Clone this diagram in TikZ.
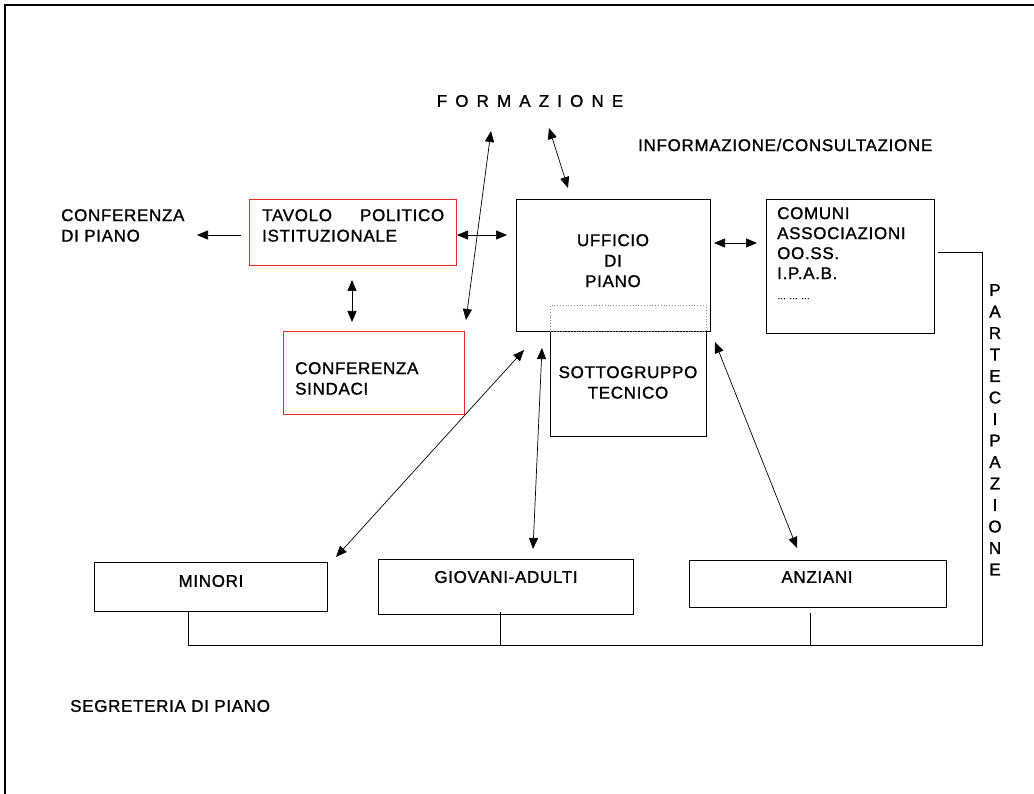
\documentclass[tikz,border=0pt]{standalone}
\usepackage{fontspec}
\setmainfont{Liberation Sans}[LetterSpace=4,FakeBold=1.2]
\usetikzlibrary{arrows.meta,calc}
\definecolor{boxred}{RGB}{235,40,40}
\begin{document}
\begin{tikzpicture}[x=1pt,y=-1pt,
  box/.style={draw,line width=0.8pt,anchor=north west,inner sep=0pt},
  redbox/.style={box,draw=boxred},
  lbl/.style={inner sep=0pt,font=\fontsize{17}{20.5}\selectfont},
  tipx/.tip={Triangle[length=11pt,width=9pt]},
  arr/.style={line width=0.7pt,tipx-tipx},
  sarr/.style={line width=0.7pt,-tipx},
  link/.style={line width=0.7pt}]
\useasboundingbox (0,0) rectangle (1034,794);
% outer frame
\draw[line width=2.4pt] (5,794) -- (5,5) -- (1034,5);

% boxes
\node[redbox,minimum width=207pt,minimum height=66pt] (tavolo) at (249,199) {};
\node[box,minimum width=194pt,minimum height=132pt] (ufficio) at (516,199) {};
\node[box,minimum width=168pt,minimum height=134pt] (comuni) at (766,199) {};
\node[redbox,minimum width=181pt,minimum height=83pt] (sindaci) at (283,331) {};
\node[box,minimum width=156pt,minimum height=105pt] (sotto) at (550,331) {};
\node[draw=gray,dotted,line width=0.8pt,anchor=north west,inner sep=0pt,minimum width=156pt,minimum height=26pt] (sottotop) at (550,305) {};
\node[box,minimum width=233pt,minimum height=49pt] (minori) at (94,562) {};
\node[box,minimum width=255pt,minimum height=55pt] (giovani) at (378,559) {};
\node[box,minimum width=257pt,minimum height=47pt] (anziani) at (689,560) {};

% texts
\node[lbl,font=\fontsize{17}{20.5}\selectfont\addfontfeatures{LetterSpace=20}] (formazione) at (530,101) {F O R M A Z I O N E};
\node[lbl,anchor=west] (info) at (638,145) {INFORMAZIONE/CONSULTAZIONE};
\node[lbl,anchor=north west,align=left] (confpiano) at (61,209) {CONFERENZA\\DI PIANO};
\node[lbl,anchor=north west,text width=182pt,align=left] (tavolot) at (262,209) {TAVOLO\hfill POLITICO\\ISTITUZIONALE};
\node[lbl,anchor=north,align=center] (ufficiot) at (613,234) {UFFICIO\\DI\\PIANO};
\node[lbl,anchor=north west,align=left,font=\fontsize{17}{20}\selectfont] (comunit) at (777,207) {COMUNI\\ASSOCIAZIONI\\OO.SS.\\I.P.A.B.\\{\fontsize{9}{20}\selectfont … … …}};
\node[lbl,anchor=north west,align=left] (sindacit) at (295,362) {CONFERENZA\\SINDACI};
\node[lbl,anchor=north,align=center] (sottot) at (628,366) {SOTTOGRUPPO\\TECNICO};
\node[lbl] (minorit) at (211,581) {MINORI};
\node[lbl] (giovanit) at (506,577) {GIOVANI-ADULTI};
\node[lbl] (anzianit) at (817,577) {ANZIANI};
\node[lbl,anchor=west] (segreteria) at (70,706) {SEGRETERIA DI PIANO};
\node[lbl,anchor=north,align=center,font=\fontsize{17}{21.5}\selectfont] (partec) at (995,284) {P\\A\\R\\T\\E\\C\\I\\P\\A\\Z\\I\\O\\N\\E};

% arrow end points
\coordinate (cpA) at (197,235);
\coordinate (tavL) at (241,235);
\coordinate (tavR) at (457,235);
\coordinate (uffL) at (507,235);
\coordinate (tavB) at (352,280);
\coordinate (sinT) at (352,322);
\coordinate (sinTR) at (466,320);
\coordinate (formA) at (491,131);
\coordinate (formB) at (549,128);
\coordinate (uffT) at (568,188);
\coordinate (uffR) at (714,243);
\coordinate (comL) at (757,243);
\coordinate (minT) at (336,557);
\coordinate (uffB1) at (524,350);
\coordinate (gioT) at (533,549);
\coordinate (uffB2) at (542,348);
\coordinate (anzT) at (797,548);
\coordinate (sotR) at (715,342);

\draw[sarr] (tavL) -- (cpA);
\draw[arr] (tavR) -- (uffL);
\draw[arr] (tavB) -- (sinT);
\draw[arr] (sinTR) -- (formA);
\draw[arr] (formB) -- (uffT);
\draw[arr] (uffR) -- (comL);
\draw[arr] (minT) -- (uffB1);
\draw[arr] (gioT) -- (uffB2);
\draw[arr] (anzT) -- (sotR);

% participation lines
\coordinate (comR) at (938,252);
\coordinate (corner1) at (982,252);
\coordinate (corner2) at (982,645);
\coordinate (busL) at (188,645);
\draw[link] (comR) -- (corner1) -- (corner2) -- (busL);
\draw[link] (minori.south -| busL) -- (busL);
\draw[link] (500,612) -- (500,645);
\draw[link] (810,613) -- (810,645);
\end{tikzpicture}
\end{document}
